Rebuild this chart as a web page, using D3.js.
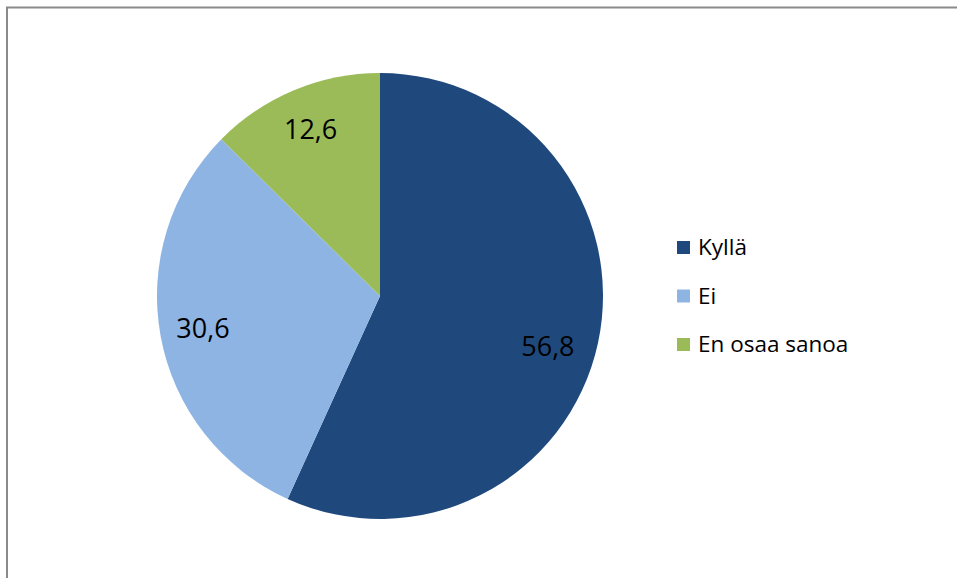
<!DOCTYPE html>
<html>
<head>
<meta charset="utf-8">
<script src="https://cdn.jsdelivr.net/npm/d3@7"></script>
<style>
  html, body { margin: 0; padding: 0; background: #fff; overflow: hidden; }
  svg { display: block; }
</style>
</head>
<body>
<div id="chart"></div>
<script>
// chart data
const categories = ['Kyllä', 'Ei', 'En osaa sanoa'];
const values = [56.8, 30.6, 12.6];
const colors = ['#1F497D', '#8EB4E3', '#9BBB59'];

const width = 957;
const height = 578;

const svg = d3.select('#chart')
  .append('svg')
  .attr('width', width)
  .attr('height', height);

// chart area frame (right and bottom edges fall outside the window)
svg.append('rect')
  .attr('x', 7)
  .attr('y', 7.5)
  .attr('width', width + 20)
  .attr('height', height + 20)
  .style('fill', 'none')
  .style('stroke', '#8a8a8a')
  .style('stroke-width', 2);

const cx = 380, cy = 296, radius = 223;

const pie = d3.pie().sort(null).value(d => d);
const arcs = pie(values);

const arc = d3.arc().innerRadius(0).outerRadius(radius);
const labelArc = d3.arc().innerRadius(180).outerRadius(180);

const g = svg.append('g')
  .attr('transform', 'translate(' + cx + ',' + cy + ')');

g.selectAll('path')
  .data(arcs)
  .enter()
  .append('path')
  .attr('d', arc)
  .style('fill', (d, i) => colors[i]);

// data labels; the big right slice sits a bit lower, like Excel's best fit
g.selectAll('text')
  .data(arcs)
  .enter()
  .append('text')
  .attr('transform', d => {
    const c = labelArc.centroid(d);
    if (c[0] > 0 && c[1] > 0) { c[0] -= 8; c[1] += 12; }
    return 'translate(' + c + ')';
  })
  .attr('text-anchor', 'middle')
  .attr('dy', '0.35em')
  .style('font-family', '"Open Sans", sans-serif')
  .style('font-size', '27px')
  .style('fill', '#000')
  .text(d => d3.format('.1f')(d.value).replace('.', ','));

// legend
const legend = svg.append('g')
  .attr('transform', 'translate(677,247)');

const item = legend.selectAll('g')
  .data(categories)
  .enter()
  .append('g')
  .attr('transform', (d, i) => 'translate(0,' + (i * 48.5) + ')');

item.append('rect')
  .attr('x', 0)
  .attr('y', -6)
  .attr('width', 13)
  .attr('height', 13)
  .style('fill', (d, i) => colors[i]);

item.append('text')
  .attr('x', 21)
  .attr('y', 0)
  .attr('dy', '0.36em')
  .style('font-family', '"Open Sans", sans-serif')
  .style('font-size', '22.5px')
  .style('fill', '#000')
  .text(d => d);
</script>
</body>
</html>
